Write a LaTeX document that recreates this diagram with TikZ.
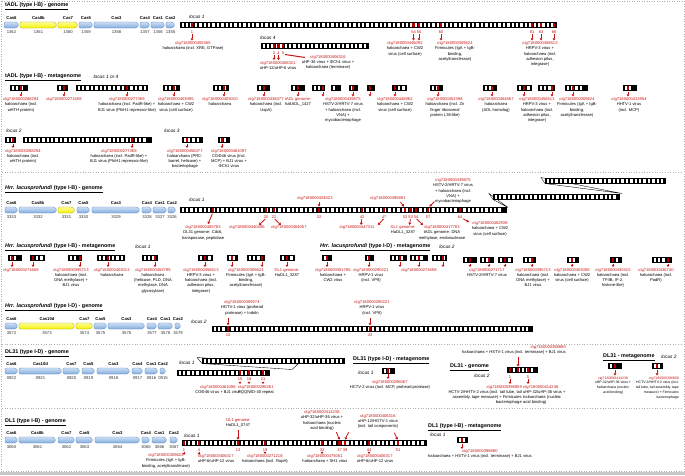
\documentclass[tikz,border=0pt]{standalone}
\usepackage{fontspec}
\setmainfont{Liberation Sans}
\usetikzlibrary{arrows.meta}
\definecolor{cred}{RGB}{200,20,20}
\definecolor{spred}{RGB}{185,0,0}
\definecolor{gblue}{RGB}{130,172,222}
\definecolor{gblueL}{RGB}{205,222,245}
\definecolor{gblueD}{RGB}{90,135,195}
\definecolor{gyel}{RGB}{245,240,0}
\definecolor{gyelL}{RGB}{255,255,150}
\definecolor{gyelD}{RGB}{170,165,0}
\definecolor{sepg}{RGB}{175,175,175}
% CRISPR array: x1 x2 y
\newcommand\cArr[3]{%
  \fill[black] (#1,#3-3) rectangle (#2,#3+3);
  \pgfmathtruncatemacro\cNsp{((#2)-(#1)-1.6)/4.4}%
  \foreach \k in {1,...,\cNsp}{\fill[white] ({#1+1.6+(\k-1)*4.4},#3-2) rectangle ({#1+1.6+(\k-1)*4.4+2.3},#3+2);}%
}
% gene: name x1 x2 y style label number
\newcommand\cGene[7]{%
  \path[#5] (#2,#4-3) -- (#3-2.5,#4-3) -- (#3,#4) -- (#3-2.5,#4+3) -- (#2,#4+3) -- cycle;
  \node[glab] (#1l) at ({(#2+#3)/2},#4-7) {#6};
  \node[gnum] (#1n) at ({(#2+#3)/2},#4+7.5) {#7};
}
\newcommand\cRs[3]{\node[redsp] (#1) at (#2,#3) {};}
\newcommand\cRsa[4]{\node[redsp] (#1) at (#2,#3) {}; \coordinate (#1e) at (#2,#4); \draw[rar,shorten <=1.3pt] (#1.south) -- (#1e);}
\newcommand\cRsn[4]{\node[redsp] (#1) at (#2,#3) {}; \node[snum] (#1n) at (#2,#3+6.8) {#4};}
\newcommand\cRsd[5]{\cRsn{#1}{#2}{#3}{#4}\coordinate (#1e) at (#2,#5); \draw[rar] (#1n.south) -- (#1e);}
\newcommand\cR[1]{\textcolor{cred}{#1}}
\begin{document}
\begin{tikzpicture}[x=1pt,y=-1pt,
  lab/.style={font=\fontsize{4.1}{5.3}\selectfont, align=center, inner sep=0pt, anchor=north},
  labl/.style={lab, align=left, anchor=north west},
  labr/.style={lab, align=right, anchor=north east},
  slab/.style={font=\fontsize{3.5}{4.8}\selectfont},
  glab/.style={font=\bfseries\fontsize{4.2}{5}\selectfont, inner sep=0pt},
  gnum/.style={font=\fontsize{4.2}{5}\selectfont, inner sep=0pt, text=black!80},
  ttl/.style={font=\bfseries\fontsize{5.4}{6.2}\selectfont, inner sep=0pt, anchor=west},
  loc/.style={font=\itshape\fontsize{4.8}{5.5}\selectfont, inner sep=0pt},
  snum/.style={font=\fontsize{4}{5}\selectfont, text=cred, inner sep=0pt},
  redsp/.style={fill=spred, inner sep=0pt, minimum width=2.8pt, minimum height=4.2pt},
  rar/.style={draw=cred, line width=0.8pt, -{Triangle[length=2.2pt,width=2.8pt]}, shorten <=0.8pt},
  rln/.style={draw=cred, line width=1pt, shorten <=0.8pt},
  sep/.style={draw=sepg, dotted, line width=0.6pt},
  fold/.style={draw=black, line width=0.35pt, fill=white},
  gb/.style={draw=gblueD, line width=0.3pt, top color=gblueL, bottom color=gblue, rounded corners=1.3pt},
  gy/.style={draw=gyelD, line width=0.3pt, top color=gyelL, bottom color=gyel, rounded corners=1.3pt}]
\useasboundingbox (0,0) rectangle (685,475);
\fill[white] (0,0) rectangle (685,475);
\draw[sepg, line width=0.5pt, dotted] (1,1) rectangle (684,471);
\fill[black!22] (0,471.5) rectangle (685,475);

%================ tADL genome
\node[ttl] (T1) at (5,6) {\underline{tADL (type I-B) - genome}};
\cGene{G11}{4}{19}{25}{gb}{Cas6}{1362}
\cGene{G12}{20}{57}{25}{gy}{Cas8b}{1361}
\cGene{G13}{58}{78}{25}{gy}{Cas7}{1360}
\cGene{G14}{79}{93}{25}{gb}{Cas5}{1359}
\cGene{G15}{94}{139}{25}{gb}{Cas3}{1358}
\cGene{G16}{140}{150}{25}{gb}{Cas4}{1357}
\cGene{G17}{151}{165}{25}{gb}{Cas1}{1356}
\cGene{G18}{166}{175}{25}{gb}{Cas2}{1355}
\node[loc] (L1) at (197,17) {locus 1};
\cArr{180}{557}{25}
\cRsd{a1}{192}{25}{1}{40.5}
\cRsd{a54}{413.5}{25}{54}{40.5}
\cRsd{a55}{419}{25}{55}{40.5}
\cRsd{a60}{441}{25}{60}{40.5}
\cRsd{a81}{532}{25}{81}{40.5}
\cRsd{a83}{541}{25}{83}{40.5}
\cRsd{a86}{554}{25}{86}{40.5}
\node[lab] (la1) at (193,41.5) {\cR{ctg7180000455365}\\haloarchaea (incl. XRE, GTPase)};
\node[lab] (la54) at (405,41.5) {\cR{ctg7180000446092}\\haloarchaea + CW2\\virus (cell surface)};
\node[lab] (la60) at (455,41.5) {\cR{ctg7180000309624}\\Firmicutes (IgA + IgB-\\binding,\\acetyltransferase)};
\node[lab] (la81) at (540,41.5) {\cR{ctg7180000456513}\\HRPV-3 virus +\\haloarchaea (incl.\\adhesion pilus,\\integrase)};
% locus 4
\node[loc] (L4) at (268,38) {locus 4};
\cArr{261}{369}{46}
\cRsd{b3}{274}{46}{3}{60}
\cRsd{b4}{278.5}{46}{4}{60}
\cRsn{b5}{283}{46}{5}
\coordinate (b5e) at (305,57.5);
\draw[rln] (b5n.south east) -- (b5e);
\node[lab] (lb3) at (278,61) {\cR{ctg7180000406321}\\uHP-12/uHP-6 virus};
\node[lab] (lb5) at (328,55) {\cR{ctg7180000406316}\\uHP-36 virus + ΦCh1 virus +\\haloarchaea (terminase)};

%================ tADL metagenome
\node[ttl] (T2) at (5,77) {\underline{tADL (type I-B) - metagenome}};
\node[loc] (L14) at (106,76.5) {locus 1 or 4};
\cArr{10}{28}{88} \cRsa{m1}{21}{88}{96.5}
\node[lab] (lm1) at (21,97.5) {\cR{ctg7180000268294}\\haloarchaea (incl.\\wHTH protein)};
\cArr{57}{68}{88} \cRsa{m2}{64}{88}{96.5}
\node[lab] (lm2) at (64,97.5) {\cR{ctg7180000271658}};
\cArr{76}{148}{88} \cRsa{m3}{127}{88}{96.5}
\node[lab] (lm3) at (127,97.5) {\cR{ctg7180000277369}\\haloarchaea (incl. PadR-like) +\\BJ1 virus (PhiH1 repressor-like)};
\cArr{163}{180}{88} \cRsa{m4}{174}{88}{96.5}
\node[lab] (lm4) at (176,97.5) {\cR{ctg7180000403095}\\haloarchaea + CW2\\virus (cell surface)};
\cArr{213}{229}{88} \cRsa{m5}{224}{88}{96.5}
\node[lab] (lm5) at (220,97.5) {\cR{ctg7180000403010}\\haloarchaea};
\cArr{257}{270}{88} \cRsa{m6}{264}{88}{96.5}
\node[lab] (lm6) at (266,97.5) {\cR{ctg7180000438477}\\haloarchaea (incl.\\UspA)};
\cArr{291}{305}{88} \cRsa{m7}{298}{88}{96.5}
\node[lab] (lm7) at (298,97.5) {\cR{tADL genome:}\\haltADL\_1427};
\cArr{312}{325}{88} \cRsa{m8}{323}{88}{96.5}
\cArr{331}{341}{88}
\cArr{349}{358}{88} \cRsa{m9}{353}{88}{96.5}
\cArr{367}{375}{88} \cRsa{m10}{370}{88}{96.5}
\node[lab] (lm8) at (343,97.5) {\cR{ctg7180000439875}\\HSTV-2/HRTV-7 virus\\+ haloarchaea (incl.\\VNA) +\\mycobacteriophage};
\cArr{392}{407}{88} \cRsa{m11}{395}{88}{96.5}
\node[lab] (lm11) at (395,97.5) {\cR{ctg7180000446962}\\haloarchaea + CW2\\virus (cell surface)};
\cArr{430}{443}{88} \cRsa{m12}{438}{88}{96.5}
\node[lab] (lm12) at (445,97.5) {\cR{ctg7180000452398}\\haloarchaea (incl. Zn\\finger ribosomal\\protein L36-like)};
\cArr{483}{497}{88} \cRsa{m13}{492}{88}{96.5}
\node[lab] (lm13) at (496,97.5) {\cR{ctg7180000454867}\\haloarchaea\\(ADL homolog)};
\cArr{517}{532}{88} \cRsa{m14}{524}{88}{96.5}
\cArr{538}{555}{88} \cRsa{m15}{552}{88}{96.5}
\node[lab] (lm14) at (537,97.5) {\cR{ctg7180000456513}\\HRPV-3 virus +\\haloarchaea (incl.\\adhesion pilus,\\integrase)};
\cArr{565}{588}{88} \cRsa{m16}{573}{88}{96.5}
\node[lab] (lm16) at (577,97.5) {\cR{ctg7180000309624}\\Firmicutes (IgA + IgB-\\binding,\\acetyltransferase)};
\cArr{623}{637}{88} \cRsa{m17}{628}{88}{96.5}
\node[lab] (lm17) at (629,97.5) {\cR{ctg7180000413954}\\HHTV-1 virus\\(incl. MCP)};
% locus 2 / 3
\node[loc] (L2) at (14,131) {locus 2};
\cArr{5}{16}{140} \cRsa{n1}{13}{140}{148}
\cArr{23}{152}{140} \cRsa{n2}{132}{140}{148}
\node[lab] (ln1) at (23,149) {\cR{ctg7180000268294}\\haloarchaea (incl.\\wHTH protein)};
\node[lab] (ln2) at (119,149) {\cR{ctg7180000277369}\\haloarchaea (incl. PadR-like) +\\BJ1 virus (PhiH1 repressor-like)};
\node[loc] (L3) at (172,131) {locus 3};
\cArr{182}{203}{140} \cRsa{n3}{187}{140}{148}
\node[lab] (ln3) at (185,149) {\cR{ctg7180000456477}\\haloarchaea (PRC-\\barrel, helicase) +\\bacteriophage};
\cArr{218}{230}{140} \cRsa{n4}{222}{140}{148}
\node[lab] (ln4) at (229,149) {\cR{ctg7180000461097}\\CGΦ46 virus (incl.\\MCP) + BJ1 virus +\\ΦCh1 virus};
\draw[sep] (2,172) -- (683,172);

%================ Hrr I-B genome
\node[ttl] (T3) at (5,189) {\underline{\textit{Hrr. lacusprofundi} (type I-B) - genome}};
\cGene{G21}{5}{18}{210}{gb}{Cas6}{3333}
\cGene{G22}{19}{57}{210}{gb}{Cas8b}{3332}
\cGene{G23}{58}{75}{210}{gy}{Cas7}{3331}
\cGene{G24}{77}{90}{210}{gb}{Cas5}{3330}
\cGene{G25}{92}{140}{210}{gb}{Cas3}{3329}
\cGene{G26}{142}{152}{210}{gb}{Cas4}{3328}
\cGene{G27}{153}{167}{210}{gb}{Cas1}{3327}
\cGene{G28}{168}{176}{210}{gb}{Cas2}{3326}
\node[loc] (L5) at (197,200) {locus 1};
\path[fold] (489,193.5) -- (493,199.5) -- (508,207.5) -- cycle;
\path[fold] (541,177.5) -- (545,183.5) -- (622,193.5) -- cycle;
\cArr{180}{507}{210}
\cArr{493}{620}{196.5}
\cArr{545}{666}{180.5}
\cRs{h1}{213}{210}
\coordinate (h1e) at (208,224);
\draw[rar,shorten <=1.5pt] (h1.south) -- (h1e);
\node[lab] (lh1) at (203,225.5) {\cR{ctg7180000405763}\\DL31 genome: Cdc6,\\transposase, peptidase};
\cRsn{h20}{266}{210}{20} \coordinate (h20e) at (259,225); \draw[rar] (h20n.south) -- (h20e);
\node[lab] (lh20) at (247,225.5) {\cR{ctg7180000440496}};
\cRsn{h22}{274}{210}{22} \coordinate (h22e) at (281,225); \draw[rar] (h22n.south) -- (h22e);
\node[lab] (lh22) at (289,225.5) {\cR{ctg7180000464057}};
\cRsn{h32}{319}{210}{32}
\coordinate (h32s) at (319,201.5); \coordinate (h32t) at (319,206.6);
\draw[rar] (h32s) -- (h32t);
\node[lab] (lh32) at (315,196) {\cR{ctg7180000424023}};
\cRsn{h42}{362}{210}{42} \coordinate (h42e) at (361,225); \draw[rar] (h42n.south) -- (h42e);
\cRsn{h47}{384}{210}{47} \coordinate (h47e) at (378,225); \draw[rar] (h47n.south) -- (h47e);
\node[lab] (lh42) at (357,225.5) {\cR{ctg7180000447311}};
\cRsn{h52}{405}{210}{52}
\coordinate (h52s) at (400,201.5); \coordinate (h52t) at (404,206.6);
\draw[rar] (h52s) -- (h52t);
\node[lab] (lh52) at (388,196) {\cR{ctg7180000395891}};
\cRsn{h53}{410.5}{210}{53} \coordinate (h53e) at (409.5,225); \draw[rar] (h53n.south) -- (h53e);
\node[lab] (lh53) at (403,225.5) {\cR{DL1 genome:}\\HaDL1\_3287};
\cRsn{h54}{416}{210}{54} \coordinate (h54e) at (423,225); \draw[rar] (h54n.south) -- (h54e);
\node[lab] (lh54) at (442,225.5) {\cR{ctg7180000417783}\\tADL genome: DNA\\methylase, endonuclease};
\cRsn{h57}{428}{210}{57}
\coordinate (h57s) at (435,201); \coordinate (h57t) at (429.5,206.6);
\draw[rar] (h57s) -- (h57t);
\node[lab] (lh57) at (453,178.5) {\cR{ctg7180000439875}\\HSTV-2/HRTV-7 virus\\+ haloarchaea (incl.\\VNA) +\\mycobacteriophage};
\cRsn{h64}{460}{210}{64} \coordinate (h64e) at (469,222); \draw[rar] (h64n.south east) -- (h64e);
\node[lab] (lh64) at (490,221.5) {\cR{ctg7180000402938}\\haloarchaea + CW2\\virus (cell surface)};

%================ Hrr I-B metagenome
\node[ttl] (T4) at (5,247) {\underline{\textit{Hrr. lacusprofundi} (type I-B) - metagenome}};
\node[loc] (L6) at (143,247) {locus 1};
\cArr{8}{22}{258} \cRsa{p1}{12}{258}{267}
\cArr{30}{45}{258} \cRsa{p2}{33}{258}{267}
\node[lab] (lp1) at (21,268) {\cR{ctg7180000271658}};
\cArr{68}{82}{258} \cRsa{p3}{80}{258}{267}
\node[lab] (lp3) at (71,268) {\cR{ctg7180000395713}\\haloarchaea (incl.\\DNA methylase) +\\BJ1 virus};
\cArr{97}{125}{258} \cRsa{p4}{108}{258}{267}
\node[lab] (lp4) at (112,268) {\cR{ctg7180000403013}\\haloarchaea};
\cArr{142}{158}{258} \cRsa{p5}{155}{258}{267}
\node[lab] (lp5) at (153,268) {\cR{ctg7180000453795}\\haloarchaea\\(helicase, PLD, DNA\\methylase, DNA\\glycosylase)};
\cArr{198}{213}{258} \cRsa{p6}{205}{258}{267}
\node[lab] (lp6) at (201,268) {\cR{ctg7180000456513}\\HRPV-3 virus +\\haloarchaea (incl.\\adhesion pilus,\\integrase)};
\cArr{227}{238}{258} \cRsa{p7}{232}{258}{267}
\cArr{247}{265}{258} \cRsa{p8}{262}{258}{267}
\node[lab] (lp7) at (246,268) {\cR{ctg7180000309624}\\Firmicutes (IgA + IgB-\\binding,\\acetyltransferase)};
\cArr{280}{295}{258} \cRsa{p9}{287}{258}{267}
\node[lab] (lp9) at (287,268) {\cR{DL1 genome:}\\HaDL1\_3287};
\cArr{322}{332}{258} \cRsa{p10}{327}{258}{267}
\node[lab] (lp10) at (333,268) {\cR{ctg7180000351785}\\haloarchaea +\\CW2 virus};
\cArr{365}{374}{258} \cRsa{p11}{369}{258}{267}
\node[lab] (lp11) at (371,268) {\cR{ctg7180000290221}\\HRPV-1 virus\\(incl. VP8)};
\cArr{390}{407}{258} \cRsa{p12}{400}{258}{267}
\cArr{410}{428}{258} \cRsa{p13}{419}{258}{267}
\cArr{432}{447}{258} \cRsa{p14}{443}{258}{267}
\node[lab] (lp12) at (419,268) {\cR{ctg7180000271658}};

%================ Hrr I-D metagenome
\node[ttl] (T5) at (320,247) {\underline{\textit{Hrr. lacusprofundi} (type I-D) - metagenome}};
\node[loc] (L7) at (447,247) {locus 2};
\cArr{463}{477}{260} \cRsa{q1}{470}{260}{267}
\cArr{480}{494}{260} \cRsa{q2}{489}{260}{267}
\cArr{498}{513}{260} \cRsa{q3}{505}{260}{267}
\node[lab] (lq1) at (487,268) {\cR{ctg7180000271717}\\HSTV-2/HRTV-7 virus};
\cArr{523}{536}{260} \cRsa{q4}{532}{260}{267}
\node[lab] (lq4) at (533,268) {\cR{ctg7180000395713}\\haloarchaea (incl.\\DNA methylase) +\\BJ1 virus};
\cArr{567}{579}{260} \cRsa{q5}{572}{260}{267}
\node[lab] (lq5) at (572,268) {\cR{ctg7180000403008}\\haloarchaea + CW2\\virus (cell surface)};
\cArr{610}{622}{260} \cRsa{q6}{613}{260}{267}
\node[lab] (lq6) at (613,268) {\cR{ctg7180000430415}\\haloarchaea (incl.\\TFIIB, IF-2,\\histone-like)};
\cArr{652}{672}{260} \cRsa{q7}{668}{260}{267}
\node[lab] (lq7) at (656,268) {\cR{ctg7180000436740}\\haloarchaea (incl.\\PadR)};

%================ Hrr I-D genome
\node[ttl] (T6) at (5,307) {\underline{\textit{Hrr. lacusprofundi} (type I-D) - genome}};
\cGene{G31}{5}{18}{326}{gb}{Cas6}{3572}
\cGene{G32}{19}{75}{326}{gy}{Cas10d}{3573}
\cGene{G33}{76}{93}{326}{gy}{Cas7}{3574}
\cGene{G34}{94}{107}{326}{gb}{Cas5}{3575}
\cGene{G35}{108}{145}{326}{gb}{Cas3}{3576}
\cGene{G36}{147}{157}{326}{gb}{Cas4}{3577}
\cGene{G37}{158}{173}{326}{gb}{Cas1}{3578}
\cGene{G38}{175}{181}{326}{gb}{Cas2}{3579}
\node[loc] (L8) at (199,322) {locus 2};
\cArr{212}{533}{328.5}
\cRsn{r10}{228}{328.5}{10}
\coordinate (r10s) at (228,317); \coordinate (r10t) at (228,325.2);
\draw[rar] (r10s) -- (r10t);
\node[lab] (lr10) at (242,300.5) {\cR{ctg7180000309274}\\HGTV-1 virus (prohead\\protease) + Indoln};
\cRsn{r43}{370}{328.5}{43}
\coordinate (r43s) at (370,317); \coordinate (r43t) at (370,325.2);
\draw[rar] (r43s) -- (r43t);
\node[lab] (lr43) at (372,300.5) {\cR{ctg7180000290221}\\HRPV-1 virus\\(incl. VP8)};
\draw[sep] (2,344) -- (683,344);

%================ DL31 genome
\node[ttl] (T7) at (5,353) {\underline{DL31 (type I-D) - genome}};
\cGene{G41}{5}{18}{371}{gb}{Cas6}{0922}
\cGene{G42}{19}{62}{371}{gb}{Cas10d}{0921}
\cGene{G43}{63}{80}{371}{gb}{Cas7}{0920}
\cGene{G44}{82}{95}{371}{gb}{Cas5}{0919}
\cGene{G45}{97}{130}{371}{gb}{Cas3}{0918}
\cGene{G46}{132}{143}{371}{gb}{Cas4}{0917}
\cGene{G47}{145}{158}{371}{gb}{Cas1}{0916}
\cGene{G48}{160}{166}{371}{gb}{Cas2}{0915}
\node[loc] (L9) at (187,363) {locus 1};
\path[fold] (197,357.5) -- (202,363.5) -- (292,369.5) -- (298,364) -- cycle;
\cArr{202}{345}{360.5}
\cArr{177}{270}{372.5}
\cRsn{d15}{240}{372.5}{15} \coordinate (d15e) at (240,384); \draw[rar] (d15n.south) -- (d15e);
\cRsn{d18}{249}{372.5}{18} \coordinate (d18e) at (249,384); \draw[rar] (d18n.south) -- (d18e);
\cRsn{d21}{263}{372.5}{21} \coordinate (d21e) at (263,384); \draw[rar] (d21n.south) -- (d21e);
\node[lab] (ld15) at (218,385) {\cR{ctg7180000461096}\\CGΦ46 virus + BJ1 virus};
\node[lab] (ld21) at (256,385) {\cR{ctg7180000296261}\\PQQ/WD-40 repeat};
% DL31 metagenome locus 1
\node[ttl] (T8) at (353,360) {\underline{DL31 (type I-D) - metagenome}};
\node[loc] (L10) at (366,373) {locus 1};
\cArr{382}{395}{370.5} \cRsa{e1}{388}{370.5}{379}
\node[lab] (le1) at (390,380) {\cR{ctg7180000296067}\\HCTV-2 virus (incl. MCP, prohead protease)};
% DL31 genome locus 2
\node[ttl] (T9) at (450,367) {\underline{DL31 - genome}};
\node[loc] (L11) at (482,376) {locus 2};
\cArr{507}{538}{370}
\cRsd{f1}{510}{370}{1}{384}
\cRs{f3}{518}{370}
\coordinate (f3s) at (518,356.5); \coordinate (f3t) at (518,366.6);
\draw[rar] (f3s) -- (f3t);
\cRsd{f5}{528}{370}{5}{384}
\node[labr] (lf3) at (566,345.5) {\cR{ctg7180000398880}\\haloarchaea + HSTV-1 virus (incl. terminase) + BJ1 virus};
\node[labr] (lf1) at (522,385) {\cR{ctg7180000396909}\\HCTV-2/HHTV-2 virus (incl. tail tube, tail\\assembly, tape measure) + Firmicutes\\bacteriophage};
\node[labl] (lf5) at (523,385) {\cR{ctg7180000414236}\\uHP-32/uHP-36 virus +\\haloarchaea (nucleic\\acid binding)};
% DL31 metagenome locus 2
\node[ttl] (T10) at (603,357) {\underline{DL31 - metagenome}};
\node[loc] (L12) at (669,357) {locus 2};
\cArr{608}{622}{366} \cRsa{g1}{615}{366}{375.5}
\cArr{652}{663}{366} \cRsa{g2}{657}{366}{375.5}
\node[lab, slab] (lg1) at (613,376.5) {\cR{ctg7180000414238}\\uHP-32/uHP-36 virus +\\haloarchaea (nucleic\\acid binding)};
\node[labr, slab] (lg2) at (679,376.5) {\cR{ctg7180000396909}\\HCTV-2/HHTV-2 virus (incl.\\tail tube, tail assembly, tape\\measure) + Firmicutes\\bacteriophage};
\draw[sep] (2,408) -- (683,408);

%================ DL1 genome
\node[ttl] (T11) at (5,422) {\underline{DL1 (type I-B) - genome}};
\cGene{G51}{5}{18}{440}{gb}{Cas6}{3060}
\cGene{G52}{19}{56}{440}{gb}{Cas8b}{3061}
\cGene{G53}{58}{75}{440}{gb}{Cas7}{3062}
\cGene{G54}{76}{93}{440}{gb}{Cas5}{3063}
\cGene{G55}{95}{140}{440}{gb}{Cas3}{3064}
\cGene{G56}{142}{150}{440}{gb}{Cas4}{3065}
\cGene{G57}{152}{167}{440}{gb}{Cas1}{3066}
\cGene{G58}{170}{178}{440}{gb}{Cas2}{3067}
\node[loc] (L13) at (192,436) {locus 1};
\cArr{182}{427}{443}
\cRsd{k1}{184}{443}{1}{455}
\cRsd{k4}{199}{443}{4}{455}
\node[lab] (lk1) at (166,453.5) {\cR{ctg7180000309624}\\Firmicutes (IgA + IgB-\\binding, acetyltransferase)};
\node[lab] (lk4) at (216,454.5) {\cR{ctg7180000406317}\\uHP-6/uHP-12 virus};
\cRsn{k13}{238}{443}{13}
\coordinate (k13s) at (238,429.5); \coordinate (k13t) at (238,439.6);
\draw[rar] (k13s) -- (k13t);
\node[lab] (lk13) at (238,418.5) {\cR{DL1 genome}\\HaDL1\_0747};
\cRsd{k19}{265}{443}{19}{454}
\node[lab] (lk19) at (265,454.5) {\cR{ctg7180000271218}\\haloarchaea (incl. RapH)};
\cRsd{k32}{322}{443}{32}{454}
\node[lab] (lk32) at (325,454.5) {\cR{ctg7180000475061}\\haloarchaea + SH1 virus};
\cRsn{k37}{339.5}{443}{37}
\cRsn{k39}{345}{443}{39}
\coordinate (k37s) at (336,431.5); \coordinate (k37t) at (339.5,439.6);
\coordinate (k39s) at (349,431.5); \coordinate (k39t) at (345,439.6);
\draw[rar] (k37s) -- (k37t);
\draw[rar] (k39s) -- (k39t);
\node[lab] (lk37) at (322,410.5) {\cR{ctg7180000414236}\\uHP-32/uHP-36 virus +\\haloarchaea (nucleic\\acid binding)};
\cRsd{k44}{369}{443}{44}{454}
\node[lab] (lk44) at (375,454.5) {\cR{ctg7180000406317}\\uHP-6/uHP-12 virus};
\cRsn{k51}{398}{443}{51}
\coordinate (k51s) at (394,432); \coordinate (k51t) at (397.5,439.6);
\draw[rar] (k51s) -- (k51t);
\node[lab] (lk51) at (378,414) {\cR{ctg7180000406316}\\uHP-12/HGTV-1 virus\\(incl. tail components)};
% DL1 metagenome
\node[ttl] (T12) at (428,427) {\underline{DL1 (type I-B) - metagenome}};
\node[loc] (L15) at (438,434.5) {locus 1};
\cArr{457}{468}{440} \cRsa{u1}{462}{440}{449}
\node[lab] (lu1) at (480,449.5) {\cR{ctg7180000398880}\\haloarchaea + HSTV-1 virus (incl. terminase) + BJ1 virus};
\end{tikzpicture}
\end{document}
